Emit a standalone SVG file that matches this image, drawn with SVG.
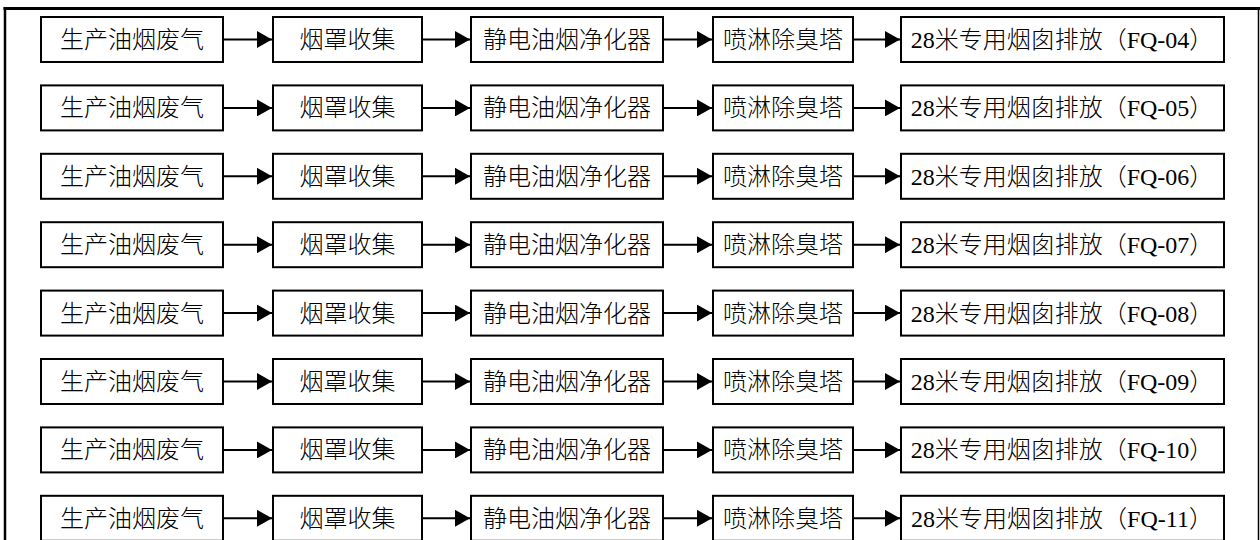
<svg xmlns="http://www.w3.org/2000/svg" width="1260" height="540" viewBox="0 0 1260 540">
<style>
.b{fill:#fff;stroke:#000;stroke-width:2}
.t{font-family:"Liberation Serif","Noto Sans CJK SC",serif;font-size:24px;font-weight:300;fill:#000;text-anchor:middle}
.c line{stroke:#000;stroke-width:2;fill:none;marker-end:url(#ah)}
</style>
<defs>
<marker id="ah" markerWidth="7.5" markerHeight="8.5" refX="7.5" refY="4.25" orient="auto" markerUnits="strokeWidth"><path d="M0,0 L7.5,4.25 L0,8.5 Z" fill="#000"/></marker>
</defs>
<rect width="1260" height="540" fill="#fff"/>
<g id="frame" fill="none" stroke="#000">
<line x1="3.5" y1="8.5" x2="1260" y2="8.5" stroke-width="3"/>
<line x1="5" y1="7" x2="5" y2="540" stroke-width="2.5"/>
<line x1="1258.5" y1="8" x2="1258.5" y2="540" stroke-width="1.5"/>
</g>
<g id="row1" transform="translate(0,17)">
<g id="n1a"><rect class="b" x="41" y="0" width="182" height="45"/><text class="t" x="132" y="31">生产油烟废气</text></g>
<g id="n1b"><rect class="b" x="273" y="0" width="149" height="45"/><text class="t" x="347.5" y="31">烟罩收集</text></g>
<g id="n1c"><rect class="b" x="471" y="0" width="192" height="45"/><text class="t" x="567" y="31">静电油烟净化器</text></g>
<g id="n1d"><rect class="b" x="713" y="0" width="140" height="45"/><text class="t" x="783" y="31">喷淋除臭塔</text></g>
<g id="n1e"><rect class="b" x="901" y="0" width="323" height="45"/><text class="t" x="1062" y="31">28米专用烟囱排放（FQ-04）</text></g>
</g>
<g id="row2" transform="translate(0,85.4)">
<g id="n2a"><rect class="b" x="41" y="0" width="182" height="45"/><text class="t" x="132" y="31">生产油烟废气</text></g>
<g id="n2b"><rect class="b" x="273" y="0" width="149" height="45"/><text class="t" x="347.5" y="31">烟罩收集</text></g>
<g id="n2c"><rect class="b" x="471" y="0" width="192" height="45"/><text class="t" x="567" y="31">静电油烟净化器</text></g>
<g id="n2d"><rect class="b" x="713" y="0" width="140" height="45"/><text class="t" x="783" y="31">喷淋除臭塔</text></g>
<g id="n2e"><rect class="b" x="901" y="0" width="323" height="45"/><text class="t" x="1062" y="31">28米专用烟囱排放（FQ-05）</text></g>
</g>
<g id="row3" transform="translate(0,153.8)">
<g id="n3a"><rect class="b" x="41" y="0" width="182" height="45"/><text class="t" x="132" y="31">生产油烟废气</text></g>
<g id="n3b"><rect class="b" x="273" y="0" width="149" height="45"/><text class="t" x="347.5" y="31">烟罩收集</text></g>
<g id="n3c"><rect class="b" x="471" y="0" width="192" height="45"/><text class="t" x="567" y="31">静电油烟净化器</text></g>
<g id="n3d"><rect class="b" x="713" y="0" width="140" height="45"/><text class="t" x="783" y="31">喷淋除臭塔</text></g>
<g id="n3e"><rect class="b" x="901" y="0" width="323" height="45"/><text class="t" x="1062" y="31">28米专用烟囱排放（FQ-06）</text></g>
</g>
<g id="row4" transform="translate(0,222.2)">
<g id="n4a"><rect class="b" x="41" y="0" width="182" height="45"/><text class="t" x="132" y="31">生产油烟废气</text></g>
<g id="n4b"><rect class="b" x="273" y="0" width="149" height="45"/><text class="t" x="347.5" y="31">烟罩收集</text></g>
<g id="n4c"><rect class="b" x="471" y="0" width="192" height="45"/><text class="t" x="567" y="31">静电油烟净化器</text></g>
<g id="n4d"><rect class="b" x="713" y="0" width="140" height="45"/><text class="t" x="783" y="31">喷淋除臭塔</text></g>
<g id="n4e"><rect class="b" x="901" y="0" width="323" height="45"/><text class="t" x="1062" y="31">28米专用烟囱排放（FQ-07）</text></g>
</g>
<g id="row5" transform="translate(0,290.6)">
<g id="n5a"><rect class="b" x="41" y="0" width="182" height="45"/><text class="t" x="132" y="31">生产油烟废气</text></g>
<g id="n5b"><rect class="b" x="273" y="0" width="149" height="45"/><text class="t" x="347.5" y="31">烟罩收集</text></g>
<g id="n5c"><rect class="b" x="471" y="0" width="192" height="45"/><text class="t" x="567" y="31">静电油烟净化器</text></g>
<g id="n5d"><rect class="b" x="713" y="0" width="140" height="45"/><text class="t" x="783" y="31">喷淋除臭塔</text></g>
<g id="n5e"><rect class="b" x="901" y="0" width="323" height="45"/><text class="t" x="1062" y="31">28米专用烟囱排放（FQ-08）</text></g>
</g>
<g id="row6" transform="translate(0,359)">
<g id="n6a"><rect class="b" x="41" y="0" width="182" height="45"/><text class="t" x="132" y="31">生产油烟废气</text></g>
<g id="n6b"><rect class="b" x="273" y="0" width="149" height="45"/><text class="t" x="347.5" y="31">烟罩收集</text></g>
<g id="n6c"><rect class="b" x="471" y="0" width="192" height="45"/><text class="t" x="567" y="31">静电油烟净化器</text></g>
<g id="n6d"><rect class="b" x="713" y="0" width="140" height="45"/><text class="t" x="783" y="31">喷淋除臭塔</text></g>
<g id="n6e"><rect class="b" x="901" y="0" width="323" height="45"/><text class="t" x="1062" y="31">28米专用烟囱排放（FQ-09）</text></g>
</g>
<g id="row7" transform="translate(0,427.4)">
<g id="n7a"><rect class="b" x="41" y="0" width="182" height="45"/><text class="t" x="132" y="31">生产油烟废气</text></g>
<g id="n7b"><rect class="b" x="273" y="0" width="149" height="45"/><text class="t" x="347.5" y="31">烟罩收集</text></g>
<g id="n7c"><rect class="b" x="471" y="0" width="192" height="45"/><text class="t" x="567" y="31">静电油烟净化器</text></g>
<g id="n7d"><rect class="b" x="713" y="0" width="140" height="45"/><text class="t" x="783" y="31">喷淋除臭塔</text></g>
<g id="n7e"><rect class="b" x="901" y="0" width="323" height="45"/><text class="t" x="1062" y="31">28米专用烟囱排放（FQ-10）</text></g>
</g>
<g id="row8" transform="translate(0,495.8)">
<g id="n8a"><rect class="b" x="41" y="0" width="182" height="45"/><text class="t" x="132" y="31">生产油烟废气</text></g>
<g id="n8b"><rect class="b" x="273" y="0" width="149" height="45"/><text class="t" x="347.5" y="31">烟罩收集</text></g>
<g id="n8c"><rect class="b" x="471" y="0" width="192" height="45"/><text class="t" x="567" y="31">静电油烟净化器</text></g>
<g id="n8d"><rect class="b" x="713" y="0" width="140" height="45"/><text class="t" x="783" y="31">喷淋除臭塔</text></g>
<g id="n8e"><rect class="b" x="901" y="0" width="323" height="45"/><text class="t" x="1062" y="31">28米专用烟囱排放（FQ-11）</text></g>
</g>
<g id="connectors" class="c">
<line x1="224" y1="39.5" x2="272" y2="39.5"/><line x1="423" y1="39.5" x2="470" y2="39.5"/><line x1="664" y1="39.5" x2="712" y2="39.5"/><line x1="854" y1="39.5" x2="900" y2="39.5"/>
<line x1="224" y1="107.9" x2="272" y2="107.9"/><line x1="423" y1="107.9" x2="470" y2="107.9"/><line x1="664" y1="107.9" x2="712" y2="107.9"/><line x1="854" y1="107.9" x2="900" y2="107.9"/>
<line x1="224" y1="176.3" x2="272" y2="176.3"/><line x1="423" y1="176.3" x2="470" y2="176.3"/><line x1="664" y1="176.3" x2="712" y2="176.3"/><line x1="854" y1="176.3" x2="900" y2="176.3"/>
<line x1="224" y1="244.7" x2="272" y2="244.7"/><line x1="423" y1="244.7" x2="470" y2="244.7"/><line x1="664" y1="244.7" x2="712" y2="244.7"/><line x1="854" y1="244.7" x2="900" y2="244.7"/>
<line x1="224" y1="313.1" x2="272" y2="313.1"/><line x1="423" y1="313.1" x2="470" y2="313.1"/><line x1="664" y1="313.1" x2="712" y2="313.1"/><line x1="854" y1="313.1" x2="900" y2="313.1"/>
<line x1="224" y1="381.5" x2="272" y2="381.5"/><line x1="423" y1="381.5" x2="470" y2="381.5"/><line x1="664" y1="381.5" x2="712" y2="381.5"/><line x1="854" y1="381.5" x2="900" y2="381.5"/>
<line x1="224" y1="449.9" x2="272" y2="449.9"/><line x1="423" y1="449.9" x2="470" y2="449.9"/><line x1="664" y1="449.9" x2="712" y2="449.9"/><line x1="854" y1="449.9" x2="900" y2="449.9"/>
<line x1="224" y1="518.3" x2="272" y2="518.3"/><line x1="423" y1="518.3" x2="470" y2="518.3"/><line x1="664" y1="518.3" x2="712" y2="518.3"/><line x1="854" y1="518.3" x2="900" y2="518.3"/>
</g>
</svg>
